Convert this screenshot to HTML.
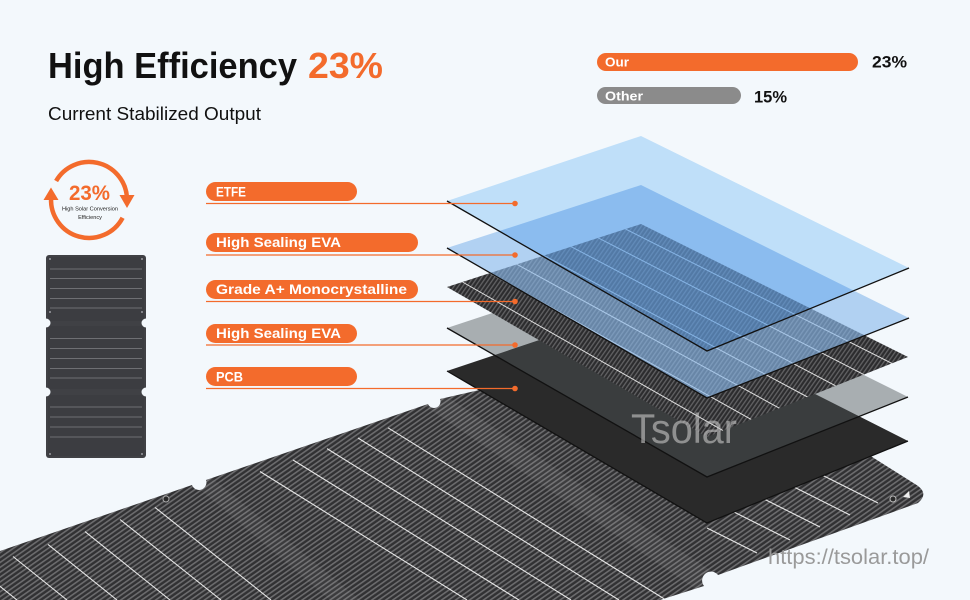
<!DOCTYPE html>
<html><head><meta charset="utf-8">
<style>
html,body{margin:0;padding:0;background:#f3f8fc;}
svg{display:block;}
text{font-family:"Liberation Sans",Arial,sans-serif;}
</style></head>
<body>
<svg width="970" height="600" viewBox="0 0 970 600" xmlns="http://www.w3.org/2000/svg">
<defs>
  <pattern id="cf" width="4" height="4" patternUnits="userSpaceOnUse" patternTransform="rotate(-35)">
    <rect width="4" height="4" fill="#313133"/>
    <rect width="4" height="1.6" fill="#6c6c6e"/>
  </pattern>
  <pattern id="cf2" width="3.5" height="3.5" patternUnits="userSpaceOnUse" patternTransform="rotate(-55)">
    <rect width="3.5" height="3.5" fill="#2c2c2e"/>
    <rect width="3.5" height="1.3" fill="#626264"/>
  </pattern>
  <clipPath id="panelClip">
    <path d="M0,551 L192,485 A7,7 0 0 0 206,480 L428,404 A6,6 0 0 0 440,399 L690,342 L915,484 Q930,493 918,503 L718,575 A6.5,6.5 0 0 0 704,586 L660,600 L0,600 Z"/>
  </clipPath>
  <clipPath id="cellClip">
    <polygon points="447,287 641,224 908,357 707,437"/>
  </clipPath>
</defs>

<rect width="970" height="600" fill="#f3f8fc"/>

<!-- Title -->
<text x="48" y="78" font-size="36" font-weight="bold" fill="#111" textLength="249" lengthAdjust="spacingAndGlyphs">High Efficiency</text>
<text x="308" y="78" font-size="36" font-weight="bold" fill="#f36b2c" textLength="75" lengthAdjust="spacingAndGlyphs">23%</text>
<text x="48" y="120" font-size="18.5" fill="#111" textLength="213" lengthAdjust="spacingAndGlyphs">Current Stabilized Output</text>

<!-- Top right bars -->
<rect x="597" y="53" width="261" height="18" rx="9" fill="#f36b2c"/>
<text x="605" y="66.5" font-size="13" font-weight="bold" fill="#fff" textLength="24" lengthAdjust="spacingAndGlyphs">Our</text>
<text x="872" y="67.5" font-size="17" font-weight="bold" fill="#111" textLength="35" lengthAdjust="spacingAndGlyphs">23%</text>
<rect x="597" y="87" width="144" height="17" rx="8.5" fill="#8b8b8b"/>
<text x="605" y="100.5" font-size="13" font-weight="bold" fill="#fff" textLength="38" lengthAdjust="spacingAndGlyphs">Other</text>
<text x="754" y="102.5" font-size="17" font-weight="bold" fill="#111" textLength="33" lengthAdjust="spacingAndGlyphs">15%</text>

<!-- Circle icon -->
<g fill="none" stroke="#f36b2c" stroke-width="4.5">
  <path d="M56.1,181 A38,38 0 0 1 126.9,196.7"/>
  <path d="M122.6,217.8 A38,38 0 0 1 51.1,198"/>
</g>
<polygon points="119.5,195 134.5,195 127,208" fill="#f36b2c"/>
<polygon points="43.5,200 58.5,200 51,187.5" fill="#f36b2c"/>
<text x="89.5" y="200" font-size="21" font-weight="bold" fill="#f36b2c" text-anchor="middle" textLength="41" lengthAdjust="spacingAndGlyphs">23%</text>
<text x="90" y="210.5" font-size="5.6" fill="#222" text-anchor="middle" textLength="56" lengthAdjust="spacingAndGlyphs">High Solar Conversion</text>
<text x="90" y="219" font-size="5.6" fill="#222" text-anchor="middle">Efficiency</text>

<!-- Small panel -->
<rect x="46" y="255" width="100" height="203" rx="3" fill="#404145"/>
<rect x="48" y="257" width="96" height="64" fill="#3c3d41"/>
<rect x="48" y="326" width="96" height="63" fill="#3c3d41"/>
<rect x="48" y="395" width="96" height="61" fill="#3c3d41"/>
<g stroke="#6e6f73" stroke-width="1">
  <line x1="50" y1="269" x2="142" y2="269"/><line x1="50" y1="278.5" x2="142" y2="278.5"/>
  <line x1="50" y1="288.5" x2="142" y2="288.5"/><line x1="50" y1="298.5" x2="142" y2="298.5"/>
  <line x1="50" y1="308" x2="142" y2="308"/>
  <line x1="50" y1="338.5" x2="142" y2="338.5"/><line x1="50" y1="348.5" x2="142" y2="348.5"/>
  <line x1="50" y1="358.5" x2="142" y2="358.5"/><line x1="50" y1="368.5" x2="142" y2="368.5"/>
  <line x1="50" y1="378" x2="142" y2="378"/>
  <line x1="50" y1="407" x2="142" y2="407"/><line x1="50" y1="417" x2="142" y2="417"/>
  <line x1="50" y1="427" x2="142" y2="427"/><line x1="50" y1="437" x2="142" y2="437"/>
</g>
<g fill="#f3f8fc">
  <circle cx="46" cy="323" r="4.5"/><circle cx="146" cy="323" r="4.5"/>
  <circle cx="46" cy="392" r="4.5"/><circle cx="146" cy="392" r="4.5"/>
</g>
<g fill="#9a9ba0">
  <circle cx="50" cy="259" r="1"/><circle cx="142" cy="259" r="1"/>
  <circle cx="50" cy="454" r="1"/><circle cx="142" cy="454" r="1"/>
  <circle cx="50" cy="312" r="1"/><circle cx="142" cy="312" r="1"/>
</g>

<!-- Big panel -->
<path d="M0,551 L192,485 A7,7 0 0 0 206,480 L428,404 A6,6 0 0 0 440,399 L690,342 L915,484 Q930,493 918,503 L718,575 A6.5,6.5 0 0 0 704,586 L660,600 L0,600 Z" fill="url(#cf)"/>
<g clip-path="url(#panelClip)">
  <polygon points="425,406 446,396 722,578 700,592" fill="#ffffff" opacity="0.06"/>
  <polygon points="196,486 212,478 360,600 330,600" fill="#ffffff" opacity="0.05"/>
  <g stroke="#e8e8e8" stroke-width="1.1">
    <line x1="-22" y1="568.6" x2="17" y2="600"/>
    <line x1="13" y1="556.5" x2="67" y2="600"/>
    <line x1="48" y1="544.4" x2="117" y2="600"/>
    <line x1="85" y1="531.6" x2="170" y2="600"/>
    <line x1="120" y1="519.5" x2="221" y2="600"/>
    <line x1="155" y1="507.4" x2="271" y2="600"/>
    <line x1="260" y1="471.5" x2="467" y2="600"/>
    <line x1="293" y1="460" x2="519" y2="600"/>
    <line x1="327" y1="448.6" x2="571" y2="600"/>
    <line x1="358" y1="438" x2="619" y2="600"/>
    <line x1="388" y1="427.8" x2="666" y2="600"/>
    <line x1="707" y1="528" x2="757" y2="553"/>
    <line x1="710" y1="500" x2="790" y2="540"/>
    <line x1="740" y1="487" x2="820" y2="527"/>
    <line x1="770" y1="475" x2="850" y2="515"/>
    <line x1="798" y1="463" x2="878" y2="503"/>
  </g>
</g>
<circle cx="166" cy="499" r="3" fill="#2a2a2a" stroke="#aaa" stroke-width="1"/>
<circle cx="893" cy="499" r="3" fill="#2a2a2a" stroke="#bbb" stroke-width="1"/>
<polygon points="903,497 909,491 910,498" fill="#eee"/>

<!-- PCB -->
<polygon points="447,371 641,306 908,441 707,523" fill="#2a2a2a"/>
<polyline points="447,371 707,523 908,441" fill="none" stroke="#111" stroke-width="1.3"/>

<!-- Gray EVA -->
<polygon points="447,328 641,264 908,397 707,477" fill="rgb(78,84,86)" fill-opacity="0.45"/>
<polyline points="447,328 707,477 908,397" fill="none" stroke="#111" stroke-width="1.3"/>

<!-- Cells -->
<polygon points="447,287 641,224 908,357 707,437" fill="url(#cf2)"/>
<g clip-path="url(#cellClip)" stroke="#e0e0e0" stroke-width="1">
  <line x1="462.5" y1="282" x2="723" y2="430.6"/>
  <line x1="489.7" y1="273.1" x2="751.2" y2="419.4"/>
  <line x1="516.8" y1="264.3" x2="779.4" y2="408.2"/>
  <line x1="544" y1="255.5" x2="807.5" y2="397"/>
  <line x1="571.2" y1="246.7" x2="835.6" y2="385.8"/>
  <line x1="598.3" y1="237.9" x2="863.8" y2="374.6"/>
  <line x1="625.5" y1="229" x2="891.9" y2="363.4"/>
</g>

<!-- EVA blue -->
<polygon points="447,248 641,185 909,318 707,398" fill="rgb(139,186,236)" fill-opacity="0.64"/>
<polyline points="447,248 707,398 909,318" fill="none" stroke="#111" stroke-width="1.3"/>

<!-- ETFE -->
<polygon points="447,201 641,136 909,268 707,351" fill="rgb(201,230,252)" style="mix-blend-mode:multiply"/>
<polyline points="447,201 707,351 909,268" fill="none" stroke="#111" stroke-width="1.3"/>

<!-- Watermarks -->
<text x="631" y="443" font-size="42" fill="#c4c4c4" fill-opacity="0.62" textLength="106" lengthAdjust="spacingAndGlyphs">Tsolar</text>
<text x="768" y="564" font-size="21" fill="#9a9a9a" textLength="161" lengthAdjust="spacingAndGlyphs">https://tsolar.top/</text>

<!-- Labels -->
<g fill="#f36b2c">
  <rect x="206" y="182" width="151" height="19" rx="9.5"/>
  <rect x="206" y="233" width="212" height="19" rx="9.5"/>
  <rect x="206" y="280" width="212" height="19" rx="9.5"/>
  <rect x="206" y="324" width="151" height="19" rx="9.5"/>
  <rect x="206" y="367" width="151" height="19" rx="9.5"/>
</g>
<g stroke="#f36b2c" stroke-width="1.3">
  <line x1="206" y1="203.5" x2="515" y2="203.5"/>
  <line x1="206" y1="255" x2="515" y2="255"/>
  <line x1="206" y1="301.5" x2="515" y2="301.5"/>
  <line x1="206" y1="345" x2="515" y2="345"/>
  <line x1="206" y1="388.5" x2="515" y2="388.5"/>
</g>
<g fill="#f36b2c">
  <circle cx="515" cy="203.5" r="2.8"/>
  <circle cx="515" cy="255" r="2.8"/>
  <circle cx="515" cy="301.5" r="2.8"/>
  <circle cx="515" cy="345" r="2.8"/>
  <circle cx="515" cy="388.5" r="2.8"/>
</g>
<g fill="#fff" font-size="14" font-weight="bold">
  <text x="216" y="196.5" textLength="30" lengthAdjust="spacingAndGlyphs">ETFE</text>
  <text x="216" y="247" textLength="125" lengthAdjust="spacingAndGlyphs">High Sealing EVA</text>
  <text x="216" y="294" textLength="191" lengthAdjust="spacingAndGlyphs">Grade A+ Monocrystalline</text>
  <text x="216" y="338" textLength="125" lengthAdjust="spacingAndGlyphs">High Sealing EVA</text>
  <text x="216" y="381.5" textLength="27" lengthAdjust="spacingAndGlyphs">PCB</text>
</g>
</svg>
</body></html>
